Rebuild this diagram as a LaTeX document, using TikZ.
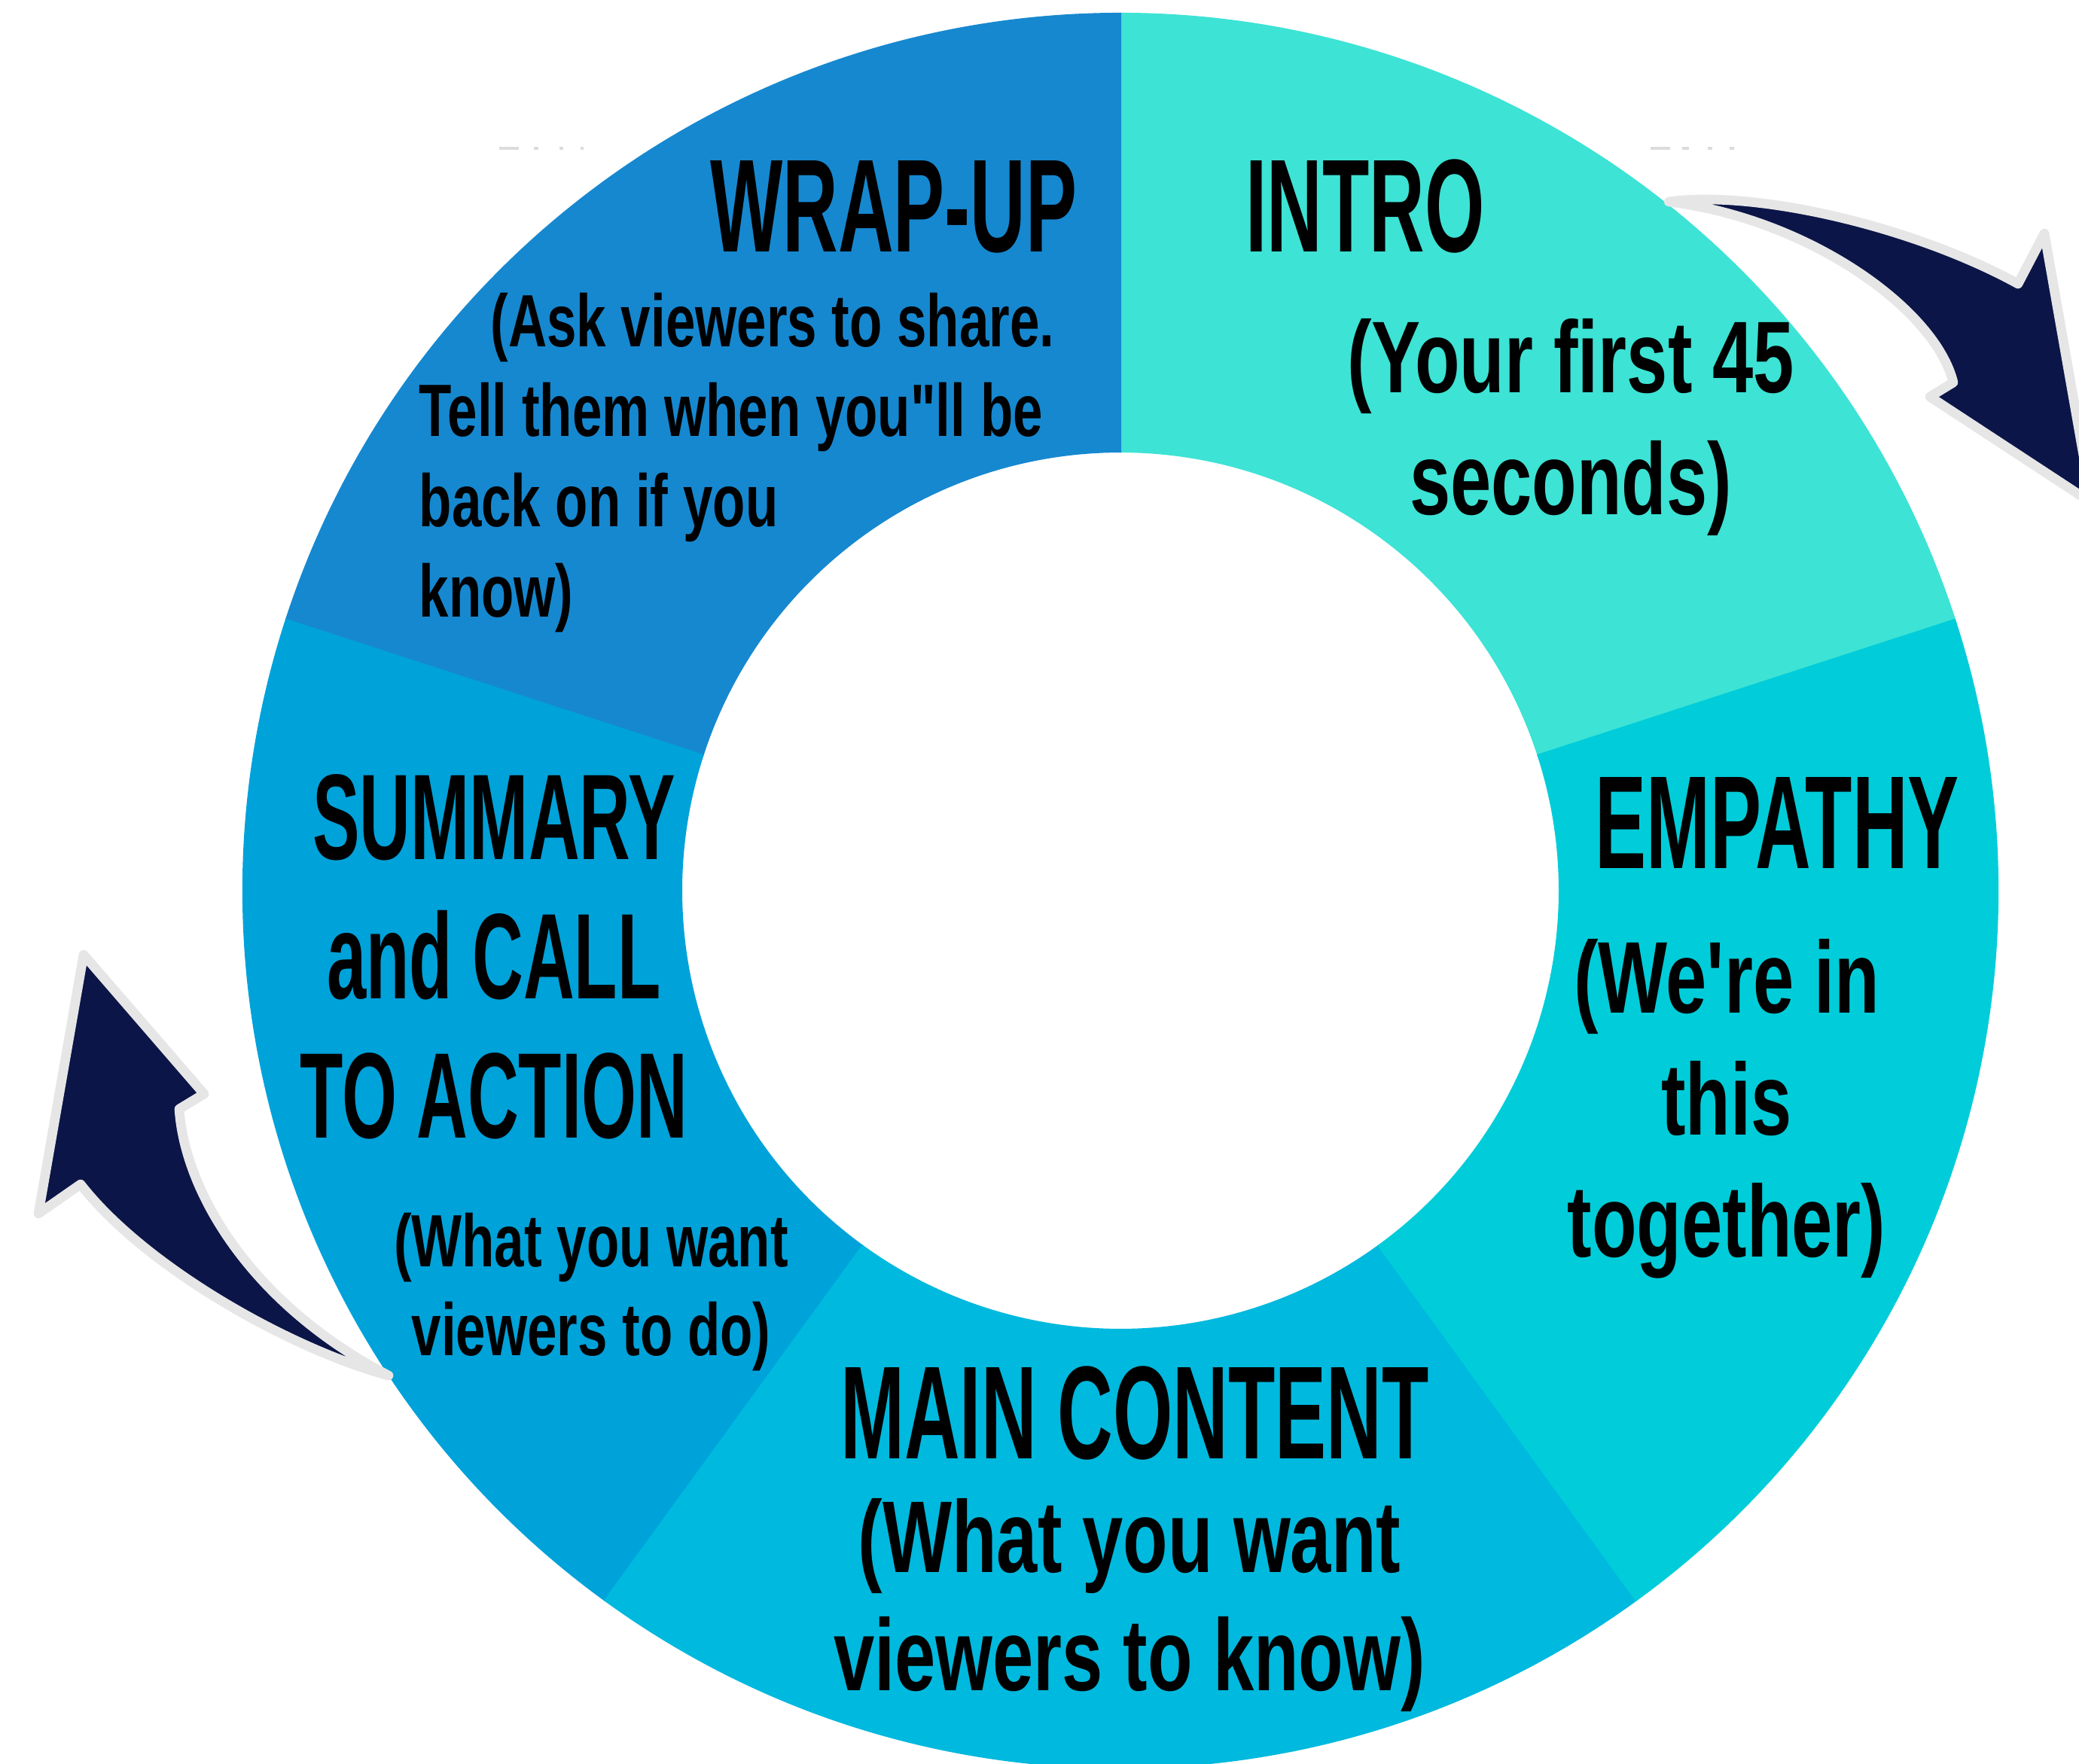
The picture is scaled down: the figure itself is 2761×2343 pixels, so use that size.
\documentclass[tikz,border=0pt]{standalone}
\usepackage{fontspec}
\newfontfamily\headfont{Liberation Sans}[FakeStretch=0.58]
\newfontfamily\notefont{Liberation Sans}[FakeStretch=0.72]
\definecolor{introcol}{HTML}{3DE3D5}
\definecolor{empathycol}{HTML}{00CDD9}
\definecolor{maincol}{HTML}{00B9DE}
\definecolor{summarycol}{HTML}{00A2DA}
\definecolor{wrapcol}{HTML}{1688D0}
\definecolor{arrowcol}{HTML}{0B1547}
\definecolor{rimcol}{HTML}{E6E6E6}
\definecolor{tickcol}{HTML}{DCDCDC}
\begin{document}
\begin{tikzpicture}[x=0.01cm,y=-0.01cm,
  title/.style={inner sep=0pt, anchor=base, align=center,
    font=\headfont\bfseries\fontsize{50}{60}\selectfont},
  bignote/.style={inner sep=0pt, anchor=base, align=center,
    font=\notefont\bfseries\fontsize{38.5}{46}\selectfont},
  smallnote/.style={inner sep=0pt, anchor=base,
    font=\notefont\bfseries\fontsize{28}{34}\selectfont},
  ring/.style={fill=#1, draw=#1, line width=0.6pt},
  curvedarrow/.style={fill=arrowcol, draw=rimcol, line width=3.6pt, line join=round},
  tick/.style={draw=tickcol, line width=1.2pt}]
\useasboundingbox (0,0) rectangle (2761,2343);
\fill[white] (0,0) rectangle (2761,2343);

% faint marks above the ring
\draw[tick] (663,197) -- (689,197) (709,197) -- (715,197) (743,197) -- (748,197) (771,197) -- (775,197);
\draw[tick] (2192,197) -- (2218,197) (2234,197) -- (2243,197) (2268,197) -- (2274,197) (2297,197) -- (2303,197);

% the five ring segments
\begin{scope}[shift={(1488,1183)}, yscale=-1]
  \foreach \a/\b/\c in {18/90/introcol, 90/162/wrapcol, 162/234/summarycol,
                        234/306/maincol, 306/378/empathycol}
    \filldraw[ring=\c] (\a:1165) arc[start angle=\a, end angle=\b, radius=1165]
      -- (\b:583) arc[start angle=\b, end angle=\a, radius=583] -- cycle;
\end{scope}

% curved arrows
\coordinate (rtail) at (2216,268);
\coordinate (rtip) at (2778,668);
\filldraw[curvedarrow] (rtail) .. controls (2330,252) and (2540,300) .. (2680,377)
  -- (2715,310) -- (rtip) -- (2563,527) -- (2594,508)
  .. controls (2570,410) and (2400,290) .. (rtail) -- cycle;

\coordinate (ltail) at (516,1827);
\coordinate (ltip) at (111,1268);
\filldraw[curvedarrow] (ltail) .. controls (380,1790) and (190,1680) .. (107,1573)
  -- (51,1612) -- (ltip) -- (271,1453) -- (238,1473)
  .. controls (245,1580) and (330,1730) .. (ltail) -- cycle;

% segment texts (multi-line nodes sit on the baseline of their last line)
\node[title] (wrap) at (1187,335) {WRAP-UP};
\node[smallnote, align=left, anchor=base west] (wrapnote) at (556,819)
  {\hspace*{27pt}(Ask viewers to share.\\Tell them when you"ll be\\back on if you\\know)};

\node[title] (intro) at (1813,335) {INTRO};
\node[bignote] (intronote) at (2086,683) {(Your first 45\\seconds)};

\node[title] (empathy) at (2360,1153) {EMPATHY};
\node[bignote] (empathynote) at (2293,1669) {(We're in\\this\\together)};

\node[title] (main) at (1507,1937) {MAIN CONTENT};
\node[bignote, font=\notefont\bfseries\fontsize{38.5}{44.5}\selectfont] (mainnote) at (1500,2245)
  {(What you want\\viewers to know)};

\node[title, font=\headfont\bfseries\fontsize{46}{52.6}\selectfont] (summary) at (656,1511)
  {SUMMARY\\and CALL\\TO ACTION};
\node[smallnote, align=center, font=\notefont\bfseries\fontsize{28}{33.5}\selectfont]
  (summarynote) at (785,1800) {(What you want\\viewers to do)};
\end{tikzpicture}
\end{document}
